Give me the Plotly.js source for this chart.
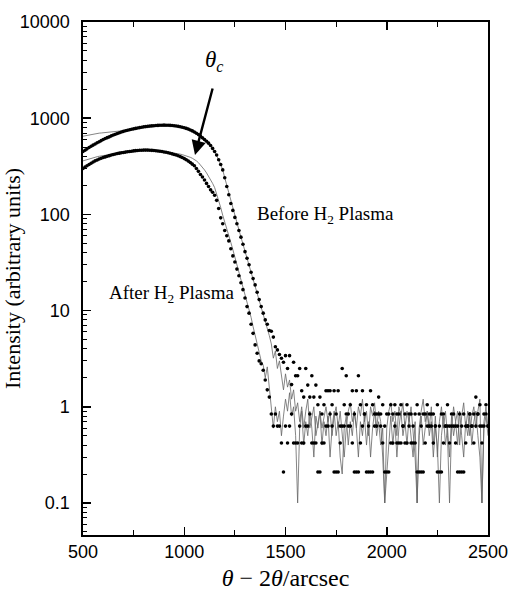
<!DOCTYPE html>
<html>
<head>
<meta charset="utf-8">
<script src="https://cdn.plot.ly/plotly-3.0.1.min.js"></script>
<style>html,body{margin:0;padding:0;background:#fff;}#chart{width:514px;height:592px;}</style>
</head>
<body>
<div id="chart"></div>
<script>
// x grid: 500 .. 2500 arcsec, every 10 arcsec
const xStart = 500, xStep = 10;

// Before H2 plasma – measured points
const beforeDots = [
 450,465,480,495,510,525,540,555,570,585,
 600,615,628,640,655,668,680,692,705,718,
 730,740,750,758,767,775,783,790,798,806,
 813,818,823,828,832,836,840,842,845,846,
 847,846,845,843,840,836,830,823,815,805,
 795,783,770,755,738,718,697,675,652,625,
 600,575,550,520,485,450,415,370,330,290,
 240,195,160,130,110,93,80,68,58,49,
 41,35,30,25,21.5,18.5,15.5,13,11,9.4,
 8.0,7.2,6.2,6.1,5.3,4.2,3.9,3.5,3.2,2.9,
 3.4,2.5,3.4,1.7,2.9,2.1,2.1,2.5,1.47,1.26,
 2.5,1.68,1.26,2.1,1.26,1.68,1.05,1.26,0.84,1.05,
 1.47,1.47,1.47,1.05,1.47,0.84,1.47,0.63,2.5,1.05,
 2.1,0.84,1.05,1.47,0.84,1.47,2.1,1.05,1.47,0.84,
 1.05,0.63,1.47,1.05,0.84,0.84,1.26,0.84,1.05,0.63,
 0.84,0.84,1.05,0.84,1.05,0.84,0.84,1.05,0.63,0.84,
 1.05,0.84,0.84,0.63,0.84,1.05,0.84,0.63,0.84,0.84,
 1.05,0.63,0.84,0.84,0.63,1.05,0.63,0.84,0.84,0.63,
 1.05,0.63,0.63,0.84,0.63,0.63,0.84,0.63,0.84,0.63,
 0.63,0.84,0.63,0.84,1.26,0.84,1.05,0.63,0.84,1.05,
 0.63
];

// After H2 plasma – measured points
const afterDots = [
 300,310,320,330,340,350,360,368,376,383,
 390,396,402,408,414,419,424,429,433,437,
 440,444,448,451,454,457,460,462,464,465,
 466,466,466,465,463,461,459,456,453,450,
 446,442,437,432,426,420,414,407,399,390,
 380,370,358,346,333,320,300,280,260,245,
 228,210,195,180,170,158,140,115,92,80,
 68,60,53,44,37,32,27,23,19.5,16.5,
 13.5,11,9.4,7.2,5.8,4.4,3.6,3.0,2.8,2.4,
 1.9,1.5,1.26,0.84,0.63,0.84,0.63,0.63,0.42,0.21,
 0.63,0.42,0.63,0.84,0.42,0.42,0.42,0.63,0.42,0.42,
 0.63,0.63,0.84,0.42,0.42,0.42,0.21,0.21,0.42,0.42,
 0.63,0.63,0.84,0.63,0.21,0.21,0.21,0.42,0.63,0.63,
 0.84,0.63,0.63,0.42,0.21,0.21,0.21,0.42,0.63,0.84,
 0.21,0.21,0.21,0.21,0.63,0.63,0.84,0.63,0.42,0.21,
 0.21,0.21,0.42,0.42,0.63,0.42,0.42,0.42,0.63,0.42,
 0.42,0.63,0.42,0.42,0.42,0.21,0.21,0.21,0.21,0.42,
 0.63,0.84,0.63,0.42,0.63,0.21,0.21,0.21,0.42,0.63,
 0.63,0.42,0.84,0.63,0.42,0.21,0.21,0.21,0.21,0.42,
 0.63,0.84,0.63,0.42,0.63,0.84,0.63,0.42,0.63,0.84,
 0.63
];

// Before H2 plasma – thin grey curve
const beforeCurve = [
 650,657,663,669,675,681,687,693,699,702,
 705,708,711,714,717,720,723,726,729,732,
 735,742,750,758,767,775,783,790,798,806,
 813,818,823,828,832,836,840,842,845,846,
 847,846,845,843,840,836,830,823,815,805,
 795,783,770,755,738,718,697,675,652,625,
 600,575,550,520,485,450,415,370,330,290,
 240,200,165,135,112,95,81,69,58,49,
 41,35,30,25,21.5,18.5,15.5,13,11,9.4,
 8.0,6.5,5.5,4.5,3.2,3.8,2.5,3.0,2.2,1.5,
 2.2,1.6,1.9,1.2,1.5,0.9,1.1,0.7,1.0,0.6,
 0.9,1.2,0.6,0.8,1.0,0.5,0.7,0.9,0.6,0.8,
 1.0,0.7,0.9,0.5,0.8,1.0,0.6,0.9,0.5,0.3,
 0.6,0.9,1.1,0.7,0.9,0.6,1.0,0.8,1.2,0.7,
 0.9,0.5,1.0,0.8,1.1,0.6,0.9,0.7,0.3,0.1,
 0.6,0.9,1.1,0.7,0.9,0.5,1.0,0.8,1.1,0.6,
 0.9,0.7,1.0,0.5,0.3,0.1,0.6,0.9,1.2,0.7,
 0.9,0.6,1.0,0.4,0.8,0.3,0.7,1.0,0.6,0.9,
 0.5,0.1,0.6,1.0,0.7,0.9,0.4,0.8,1.1,0.6,
 0.9,0.5,0.8,1.0,0.6,0.9,1.2,0.1,0.7,1.0,
 0.6
];

// After H2 plasma – thin grey curve
const afterCurve = [
 360,366,372,378,384,389,394,398,402,406,
 410,413,416,419,422,425,428,431,434,437,
 440,444,448,451,454,457,460,462,464,465,
 466,466,466,465,464,463,462,460,458,456,
 453,450,447,444,440,436,432,428,423,418,
 413,407,400,392,383,373,360,345,328,310,
 290,270,250,230,210,190,165,140,118,98,
 82,70,60,51,43,36,30,25,21,18,
 15,12.5,10.5,8.5,6.8,5.5,4.5,3.6,3.0,2.7,
 2.0,2.6,1.6,1.0,0.6,1.0,0.7,0.9,0.5,0.8,
 1.2,0.9,1.4,0.8,1.0,0.5,0.1,0.6,0.9,0.4,
 0.7,0.5,0.9,0.6,0.3,0.8,0.6,0.9,0.4,0.7,
 0.5,0.8,0.3,0.6,0.9,0.5,0.7,0.3,0.2,0.6,
 0.8,0.4,0.7,0.5,0.9,0.6,0.3,0.7,0.5,0.8,
 0.4,0.7,0.3,0.6,0.9,0.5,0.7,0.4,0.6,0.1,
 0.2,0.5,0.8,0.4,0.7,0.3,0.6,0.9,0.5,0.7,
 0.4,0.8,0.5,0.3,0.7,0.1,0.5,0.8,0.4,0.6,
 0.9,0.5,0.7,0.3,0.6,0.4,0.1,0.5,0.8,0.4,
 0.6,0.3,0.8,0.5,0.7,0.4,0.9,0.5,0.3,0.7,
 0.5,0.8,0.4,0.7,0.9,0.5,0.3,0.1,0.6,0.8,
 0.5
];

const xTickVals = [500, 1000, 1500, 2000, 2500];
const yTickVals = [0.1, 1, 10, 100, 1000, 10000];
const yTickText = ['0.1', '1', '10', '100', '1000', '10000'];

function xs(n) { const a = []; for (let i = 0; i < n; i++) a.push(xStart + i * xStep); return a; }

const lineStyle = {color: '#666', width: 0.8};
const dotStyle = {color: '#000', size: 3.6};

const traces = [
  {x: xs(beforeCurve.length), y: beforeCurve, mode: 'lines', line: lineStyle, hoverinfo: 'skip'},
  {x: xs(afterCurve.length), y: afterCurve, mode: 'lines', line: lineStyle, hoverinfo: 'skip'},
  {x: xs(beforeDots.length), y: beforeDots, mode: 'markers', marker: dotStyle},
  {x: xs(afterDots.length), y: afterDots, mode: 'markers', marker: dotStyle}
];

const serif = 'Liberation Serif, Times New Roman, serif';
const sans = 'Liberation Sans, Arial, sans-serif';

const layout = {
  width: 514, height: 592,
  margin: {l: 83, r: 26, t: 22, b: 57},
  paper_bgcolor: '#fff', plot_bgcolor: '#fff',
  showlegend: false,
  xaxis: {
    range: [500, 2500], tickvals: xTickVals,
    ticks: 'inside', ticklen: 8, tickwidth: 1.5, tickcolor: '#000',
    minor: {dtick: 250, tick0: 500, ticks: 'inside', ticklen: 5, tickwidth: 1.2, tickcolor: '#000'},
    showline: true, linecolor: '#000', linewidth: 1.6, mirror: 'ticks',
    showgrid: false, zeroline: false,
    tickfont: {family: sans, size: 18, color: '#000'},
    title: {text: '<i>θ</i> − 2<i>θ</i>/arcsec', font: {family: serif, size: 24, color: '#000'}, standoff: 8}
  },
  yaxis: {
    type: 'log', range: [-1.333, 4.0],
    tickvals: yTickVals, ticktext: yTickText,
    ticks: 'inside', ticklen: 8, tickwidth: 1.5, tickcolor: '#000',
    minor: {dtick: 'D1', ticks: 'inside', ticklen: 4, tickwidth: 1, tickcolor: '#000'},
    showline: true, linecolor: '#000', linewidth: 1.6, mirror: true,
    showgrid: false, zeroline: false,
    ticklabelstandoff: 8,
    tickfont: {family: sans, size: 18, color: '#000'},
    title: {text: 'Intensity (arbitrary units)', font: {family: serif, size: 22, color: '#000'}, standoff: 8}
  },
  annotations: [
    {xref: 'paper', yref: 'paper', x: (214 - 83) / 405, y: (535 - 61) / 513, xanchor: 'center', yanchor: 'middle',
     text: '<i>θ<sub>c</sub></i>', showarrow: false, font: {family: serif, size: 23, color: '#000'}},
    {xref: 'paper', yref: 'paper', x: (195 - 83) / 405, y: (535 - 155) / 513, ax: 18, ay: -68, text: '',
     showarrow: true, arrowhead: 2, arrowsize: 1.2, arrowwidth: 2.4, arrowcolor: '#000'},
    {xref: 'paper', yref: 'paper', x: (325 - 83) / 405, y: (535 - 215) / 513, xanchor: 'center', yanchor: 'middle',
     text: 'Before H<sub>2</sub> Plasma', showarrow: false, font: {family: serif, size: 19, color: '#000'}},
    {xref: 'paper', yref: 'paper', x: (171 - 83) / 405, y: (535 - 294) / 513, xanchor: 'center', yanchor: 'middle',
     text: 'After H<sub>2</sub> Plasma', showarrow: false, font: {family: serif, size: 19, color: '#000'}}
  ]
};

Plotly.newPlot('chart', traces, layout, {displayModeBar: false, staticPlot: true});
</script>
</body>
</html>
